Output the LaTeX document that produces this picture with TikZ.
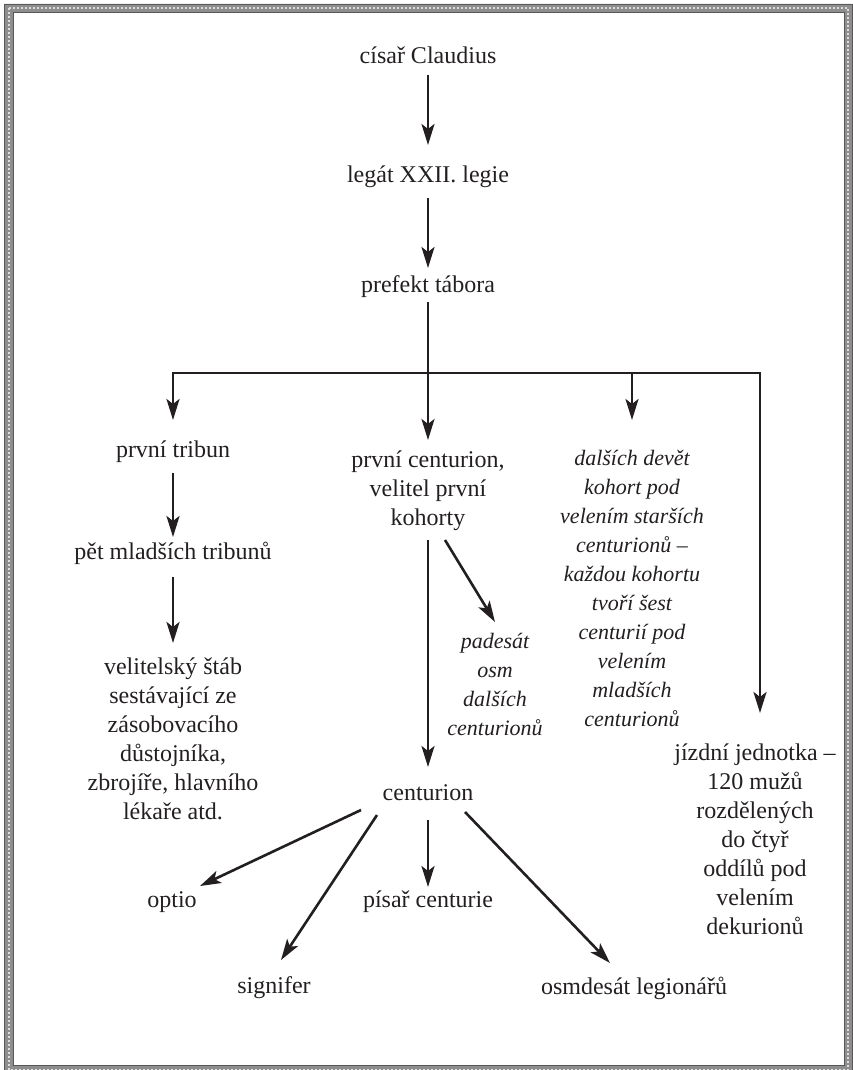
\documentclass[tikz,border=0pt]{standalone}
\usepackage{fontspec}
\setmainfont{Liberation Serif}
\usetikzlibrary{arrows.meta,positioning,calc}
\definecolor{ink}{HTML}{231F20}
\definecolor{frame}{HTML}{8E8E8E}

\begin{document}
\begin{tikzpicture}[x=1pt,y=-1pt,
  lbl/.style={align=center,inner sep=0pt,text=ink,font=\fontsize{24}{29}\selectfont},
  lblit/.style={lbl,font=\fontsize{22}{29}\selectfont\itshape},
  arr/.style={-{Stealth[length=21pt,width=13pt,inset=5pt]},line width=2.6pt,ink}]
  \useasboundingbox (0,0) rectangle (852,1070);
  % meander border
  \fill[frame,even odd rule] (4,4) rectangle (852,1074) (13,12) rectangle (844,1065);
  \draw[white!70!frame,line width=2pt,dash pattern=on 2pt off 2pt] (8.5,8) rectangle (848,1069.5);
  \draw[ink!75,line width=.6pt] (4,4) rectangle (852,1074);
  \draw[ink!75,line width=.6pt] (13,12) rectangle (844,1065);

  \node[lbl] (claudius) at (428,55) {císař Claudius};
  \node[lbl] (legat) at (428,177) {legát XXII. legie};
  \node[lbl] (prefekt) at (428,287) {prefekt tábora};
  \node[lbl] (tribun) at (173,452) {první tribun};
  \node[lbl] (mladsi) at (173,553) {pět mladších tribunů};
  \node[lbl] (stab) at (173,739) {velitelský štáb\\sestávající ze\\zásobovacího\\důstojníka,\\zbrojíře, hlavního\\lékaře atd.};
  \node[lbl] (prvni) at (428,491) {první centurion,\\velitel první\\kohorty};
  \node[lblit] (padesat) at (495,684) {padesát\\osm\\dalších\\centurionů};
  \node[lblit] (devet) at (632,588) {dalších devět\\kohort pod\\velením starších\\centurionů –\\každou kohortu\\tvoří šest\\centurií pod\\velením\\mladších\\centurionů};
  \node[lbl] (jizdni) at (755,839) {jízdní jednotka –\\120 mužů\\rozdělených\\do čtyř\\oddílů pod\\velením\\dekurionů};
  \node[lbl] (centurion) at (428,793) {centurion};
  \node[lbl] (optio) at (172,902) {optio};
  \node[lbl] (pisar) at (428,902) {písař centurie};
  \node[lbl] (signifer) at (274,988) {signifer};
  \node[lbl] (osmdesat) at (634,988) {osmdesát legionářů};

  \coordinate (forkL) at (173,373);
  \coordinate (forkR) at (760,373);

  \draw[arr,shorten <=20pt,shorten >=32pt] (claudius.center) -- (legat.center);
  \draw[arr,shorten <=21pt,shorten >=19pt] (legat.center) -- (prefekt.center);
  \draw[arr,shorten <=15pt,shorten >=51pt] (prefekt.center) -- (prvni.center);
  \draw[arr,shorten >=32pt] (forkR) -- (forkL) -- (forkL |- tribun.center);
  \draw[arr,shorten >=126pt] (forkL) -- (forkR) -- (forkR |- jizdni.center);
  \draw[arr,shorten >=168pt] (devet.center |- forkL) -- (devet.center);
  \draw[arr,shorten <=21pt,shorten >=16pt] (tribun.center) -- (mladsi.center);
  \draw[arr,shorten <=24pt,shorten >=96pt] (mladsi.center) -- (stab.center);
  \draw[arr,shorten <=49pt,shorten >=26pt] (prvni.center) -- (centurion.center);
  \draw[arr] ([shift={(17,49)}]prvni.center) -- ([shift={(0,-62)}]padesat.center);
  \draw[arr] ([shift={(-67,17)}]centurion.center) -- ([shift={(28,-16)}]optio.center);
  \draw[arr] ([shift={(-51,22)}]centurion.center) -- ([shift={(7,-28)}]signifer.center);
  \draw[arr,shorten <=27pt,shorten >=15pt] (centurion.center) -- (pisar.center);
  \draw[arr] ([shift={(37,19)}]centurion.center) -- ([shift={(-24,-25)}]osmdesat.center);
\end{tikzpicture}
\end{document}
